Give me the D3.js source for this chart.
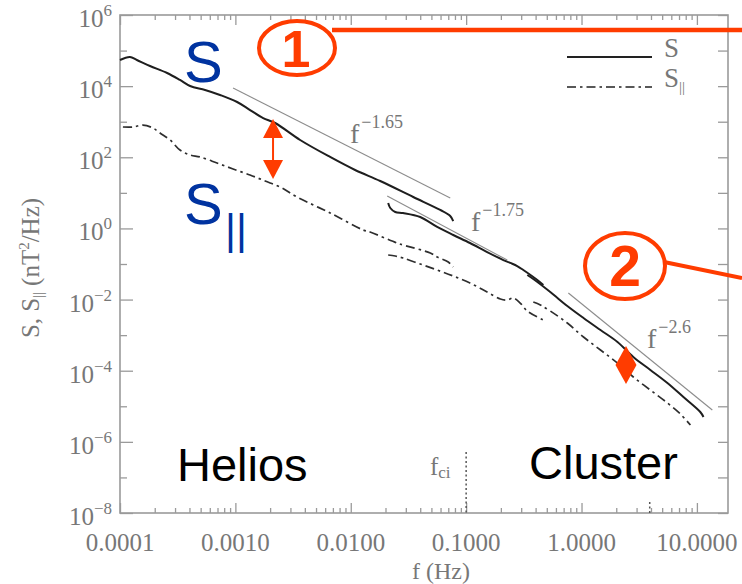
<!DOCTYPE html>
<html><head><meta charset="utf-8">
<script src="https://cdn.jsdelivr.net/npm/d3@7"></script>
<style>body{margin:0;background:#fff}svg{display:block}</style>
</head><body><svg id="c" width="742" height="584"></svg>
<script>
// ---------------- data ----------------
const xDomain = [1e-4, 18.6];
const yDomain = [1e-8, 1e6];
const xTickValues = [1e-4, 1e-3, 1e-2, 1e-1, 1, 10];
const xTickLabels = ["0.0001", "0.0010", "0.0100", "0.1000", "1.0000", "10.0000"];
const yTickValues = [1e6, 1e4, 1e2, 1e0, 1e-2, 1e-4, 1e-6, 1e-8];
const yTickExps = ["6", "4", "2", "0", "\u22122", "\u22124", "\u22126", "\u22128"];

// Helios, total power S
const heliosF = [0.0001, 1.22e-4, 1.40e-4, 1.82e-4, 2.56e-4, 3.31e-4, 4.05e-4, 5.46e-4, 7.36e-4, 1.035e-3, 1.34e-3, 1.74e-3, 2.21e-3, 3.64e-3, 6.62e-3, 0.0109, 0.0180, 0.0348, 0.0596, 0.0728, 0.0773];
const heliosS = [5.43e4, 6.59e4, 5.43e4, 3.68e4, 2.34e4, 1.49e4, 1.01e4, 7.80e3, 5.64e3, 3.58e3, 2.13e3, 1.27e3, 920, 306, 102, 43.9, 21.5, 7.64, 3.30, 2.23, 1.61];
// Helios, parallel S||
const heliosParF = [1.06e-4, 1.30e-4, 1.58e-4, 1.93e-4, 2.22e-4, 2.72e-4, 3.31e-4, 4.05e-4, 4.94e-4, 6.93e-4, 9.55e-4, 1.34e-3, 1.81e-3, 2.44e-3, 3.43e-3, 6.62e-3, 0.0128, 0.0147, 0.0252, 0.0284, 0.0489, 0.0561, 0.0700, 0.0773];
const heliosPar = [710, 710, 807, 665, 482, 306, 160, 116, 102, 69.0, 46.8, 31.8, 21.5, 14.6, 7.64, 2.72, 0.904, 0.792, 0.389, 0.342, 0.204, 0.157, 0.114, 0.0822];
// Cluster, S (two instrument segments)
const clusterS1F = [0.0211, 0.0220, 0.0243, 0.0284, 0.0400, 0.0561, 0.0773, 0.108, 0.152, 0.210, 0.241, 0.277, 0.313, 0.414, 0.467];
const clusterS1 = [5.19, 3.75, 2.90, 2.71, 2.09, 1.10, 0.653, 0.389, 0.217, 0.129, 0.107, 0.0877, 0.0678, 0.0355, 0.0256];
const clusterS2F = [0.339, 0.382, 0.536, 0.753, 1.04, 1.46, 2.05, 2.81, 3.95, 5.55, 7.64, 10.7, 11.4];
const clusterS2 = [0.0490, 0.0378, 0.0163, 6.59e-3, 3.03e-3, 1.39e-3, 6.41e-4, 2.43e-4, 1.05e-4, 4.51e-5, 1.82e-5, 6.90e-6, 4.99e-6];
// Cluster, S|| (two segments)
const clusterPar1F = [0.0211, 0.0243, 0.0284, 0.0400, 0.0561, 0.0773, 0.108, 0.152, 0.198, 0.227, 0.256, 0.294, 0.339, 0.467];
const clusterPar1 = [0.179, 0.168, 0.147, 0.100, 0.0678, 0.0459, 0.0292, 0.0163, 0.0104, 9.72e-3, 0.0111, 8.0e-3, 4.76e-3, 2.66e-3];
const clusterPar2F = [0.382, 0.440, 0.536, 0.753, 1.04, 1.46, 2.05, 2.81, 3.95, 5.55, 7.19, 8.78];
const clusterPar2 = [8.53e-3, 7.03e-3, 4.76e-3, 2.19e-3, 8.85e-4, 3.82e-4, 1.64e-4, 6.65e-5, 2.86e-5, 1.24e-5, 6.07e-6, 2.97e-6];
// power-law fit segments (end points)
const fitLabels = ["\u22121.65", "\u22121.75", "\u22122.6"];
const fitF = [[0.000955, 0.0728], [0.0207, 0.227], [0.769, 13.6]];
const fitS = [[8870, 7.16], [8.15, 0.129], [0.0153, 7.85e-6]];
// marker frequencies
const fci = 0.1;
const fMark = 3.9;
// annotation anchors (data units)
const arrowF = 0.00212, arrowTop = 1190, arrowBottom = 24.5;
const diamondF = 2.43, diamondTop = 4.94e-4, diamondBottom = 4.23e-5;

// ---------------- drawing ----------------
const svg = d3.select('#c');
const W = 742, H = 584;
const L = 120, R = 728, T = 15, B = 513;
svg.append('rect').attr('width', W).attr('height', H).attr('fill', '#fff');

const x = d3.scaleLog().domain(xDomain).range([L, R]);
const y = d3.scaleLog().domain(yDomain).range([B, T]);

const axisColor = '#9a9a9a';
const textColor = '#777';
const serif = "'Liberation Serif','DejaVu Serif',serif";
const sans = "'Liberation Sans',Arial,sans-serif";
const red = '#ff3c00';

const xMinor = [];
for (let e = -4; e <= 1; e++) for (let k = 2; k <= 9; k++) { const v = k * Math.pow(10, e); if (v <= xDomain[1]) xMinor.push(v); }
const yAll = d3.range(-8, 7).map(e => Math.pow(10, e));
const yOdd = yAll.filter((d, i) => i % 2 === 1);

function clean(g) {
  g.select('.domain').remove();
  g.selectAll('text').remove();
  g.selectAll('line').attr('stroke', axisColor).attr('stroke-width', 1.3);
}
svg.append('g').attr('transform', `translate(0,${B})`).call(d3.axisBottom(x).tickValues(xTickValues).tickSize(-10)).call(clean);
svg.append('g').attr('transform', `translate(0,${B})`).call(d3.axisBottom(x).tickValues(xMinor).tickSize(-5)).call(clean);
svg.append('g').attr('transform', `translate(0,${T})`).call(d3.axisTop(x).tickValues(xTickValues).tickSize(-10)).call(clean);
svg.append('g').attr('transform', `translate(0,${T})`).call(d3.axisTop(x).tickValues(xMinor).tickSize(-5)).call(clean);
svg.append('g').attr('transform', `translate(${L},0)`).call(d3.axisLeft(y).tickValues(yTickValues).tickSize(-13)).call(clean);
svg.append('g').attr('transform', `translate(${L},0)`).call(d3.axisLeft(y).tickValues(yOdd).tickSize(-7)).call(clean);
svg.append('g').attr('transform', `translate(${R},0)`).call(d3.axisRight(y).tickValues(yAll).tickSize(-10)).call(clean);
svg.append('rect').attr('x', L).attr('y', T).attr('width', R - L).attr('height', B - T)
  .attr('fill', 'none').attr('stroke', axisColor).attr('stroke-width', 1.6);

// tick labels
svg.append('g').selectAll('text').data(xTickValues).join('text')
  .attr('x', d => x(d)).attr('y', 551).attr('text-anchor', 'middle')
  .attr('font-family', serif).attr('font-size', 25).attr('fill', textColor)
  .text((d, i) => xTickLabels[i]);
const yl = svg.append('g').selectAll('text').data(yTickValues).join('text')
  .attr('x', 112).attr('y', d => y(d) + 12).attr('text-anchor', 'end')
  .attr('font-family', serif).attr('font-size', 25).attr('fill', textColor);
yl.append('tspan').text('10');
yl.append('tspan').attr('dy', -11).attr('font-size', 17).text((d, i) => yTickExps[i]);

// axis titles
svg.append('text').attr('x', 441).attr('y', 579).attr('text-anchor', 'middle')
  .attr('font-family', serif).attr('font-size', 24).attr('fill', textColor).text('f (Hz)');
const yt = svg.append('text').attr('transform', 'translate(39,268) rotate(-90)').attr('text-anchor', 'middle')
  .attr('font-family', serif).attr('font-size', 25).attr('fill', textColor);
yt.append('tspan').text('S, S');
yt.append('tspan').attr('font-size', 14).attr('dy', 4).text('||');
yt.append('tspan').attr('dy', -4).text(' (nT');
yt.append('tspan').attr('font-size', 15).attr('dy', -10).text('2');
yt.append('tspan').attr('dy', 10).text('/Hz)');

// fit lines
const lineGen = d3.line().x(d => x(d[0])).y(d => y(d[1]));
fitF.forEach((fs, i) => {
  svg.append('path').attr('d', lineGen(fs.map((f, j) => [f, fitS[i][j]])))
    .attr('fill', 'none').attr('stroke', '#8c8c8c').attr('stroke-width', 1.1);
});
const fitPos = [[350, 143], [471, 231], [647, 348]];
fitLabels.forEach((lab, i) => {
  const t = svg.append('text').attr('x', fitPos[i][0]).attr('y', fitPos[i][1])
    .attr('font-family', serif).attr('font-size', 28).attr('fill', textColor);
  t.append('tspan').text('f');
  t.append('tspan').attr('dx', 2).attr('dy', -15).attr('font-size', 18).text(lab);
});

// curves
const curveGen = d3.line().x(d => x(d[0])).y(d => y(d[1])).curve(d3.curveCatmullRom.alpha(0.5));
const zip = (a, b) => a.map((v, i) => [v, b[i]]);
const solid = [zip(heliosF, heliosS), zip(clusterS1F, clusterS1), zip(clusterS2F, clusterS2)];
const dashed = [zip(heliosParF, heliosPar), zip(clusterPar1F, clusterPar1), zip(clusterPar2F, clusterPar2)];
solid.forEach(d => svg.append('path').attr('d', curveGen(d)).attr('fill', 'none')
  .attr('stroke', '#1e1e1e').attr('stroke-width', 2));
dashed.forEach(d => svg.append('path').attr('d', curveGen(d)).attr('fill', 'none')
  .attr('stroke', '#2e2e2e').attr('stroke-width', 1.7).attr('stroke-dasharray', '9,4,2.5,4'));

// f_ci marker
svg.append('line').attr('x1', x(fci)).attr('x2', x(fci)).attr('y1', 452).attr('y2', B)
  .attr('stroke', '#555').attr('stroke-width', 1.5).attr('stroke-dasharray', '2,2.5');
svg.append('line').attr('x1', x(fMark)).attr('x2', x(fMark)).attr('y1', 502).attr('y2', B)
  .attr('stroke', '#555').attr('stroke-width', 1.5).attr('stroke-dasharray', '2,2.5');
const fc = svg.append('text').attr('x', 430).attr('y', 475).attr('font-family', serif)
  .attr('font-size', 25).attr('fill', textColor);
fc.append('tspan').text('f');
fc.append('tspan').attr('font-size', 17).attr('dy', 3).text('ci');

// legend
svg.append('line').attr('x1', 567).attr('x2', 652).attr('y1', 57).attr('y2', 57).attr('stroke', '#222').attr('stroke-width', 1.8);
svg.append('line').attr('x1', 567).attr('x2', 652).attr('y1', 87).attr('y2', 87).attr('stroke', '#222').attr('stroke-width', 1.6).attr('stroke-dasharray', '9,4,2.5,4');
svg.append('text').attr('x', 664).attr('y', 57).attr('font-family', serif).attr('font-size', 27).attr('fill', textColor).text('S');
const lg = svg.append('text').attr('x', 664).attr('y', 87).attr('font-family', serif).attr('font-size', 27).attr('fill', textColor);
lg.append('tspan').text('S');
lg.append('tspan').attr('font-size', 15).attr('dy', 5).text('||');

// big labels
svg.append('text').attr('x', 184).attr('y', 82).attr('font-family', sans).attr('font-size', 58).attr('fill', '#0033a0').text('S');
svg.append('text').attr('x', 184).attr('y', 224).attr('font-family', sans).attr('font-size', 58).attr('fill', '#0033a0').text('S');
svg.append('text').attr('x', 225).attr('y', 244).attr('font-family', sans).attr('font-size', 42).attr('fill', '#0033a0').text('||');
svg.append('text').attr('x', 177).attr('y', 481).attr('font-family', sans).attr('font-size', 47).attr('fill', '#000').text('Helios');
svg.append('text').attr('x', 529).attr('y', 479).attr('font-family', sans).attr('font-size', 47).attr('fill', '#000').text('Cluster');

// annotations
svg.append('line').attr('x1', 332).attr('x2', 742).attr('y1', 30).attr('y2', 30).attr('stroke', red).attr('stroke-width', 4.5);
svg.append('ellipse').attr('cx', 297).attr('cy', 48).attr('rx', 38).attr('ry', 27).attr('fill', '#fff').attr('stroke', red).attr('stroke-width', 4);
svg.append('text').attr('x', 296).attr('y', 67).attr('text-anchor', 'middle').attr('font-family', sans).attr('font-weight', 'bold').attr('font-size', 52).attr('fill', red).text('1');
svg.append('line').attr('x1', 664).attr('x2', 742).attr('y1', 262).attr('y2', 278).attr('stroke', red).attr('stroke-width', 4);
svg.append('ellipse').attr('cx', 625).attr('cy', 266).attr('rx', 40).attr('ry', 33).attr('fill', '#fff').attr('stroke', red).attr('stroke-width', 4);
svg.append('text').attr('x', 625).attr('y', 286).attr('text-anchor', 'middle').attr('font-family', sans).attr('font-weight', 'bold').attr('font-size', 57).attr('fill', red).text('2');

// double arrow
const ax = x(arrowF), aT = y(arrowTop), aB = y(arrowBottom);
svg.append('line').attr('x1', ax).attr('x2', ax).attr('y1', aT + 15).attr('y2', aB - 15).attr('stroke', red).attr('stroke-width', 2);
svg.append('path').attr('d', `M${ax},${aT}L${ax - 10},${aT + 19}L${ax + 10},${aT + 19}Z`).attr('fill', red);
svg.append('path').attr('d', `M${ax},${aB}L${ax - 10},${aB - 19}L${ax + 10},${aB - 19}Z`).attr('fill', red);
// diamond
const dx = x(diamondF), dT = y(diamondTop), dB = y(diamondBottom), dM = (dT + dB) / 2;
svg.append('path').attr('d', `M${dx},${dT}L${dx + 10.5},${dM}L${dx},${dB}L${dx - 10.5},${dM}Z`).attr('fill', red);
</script></body></html>
